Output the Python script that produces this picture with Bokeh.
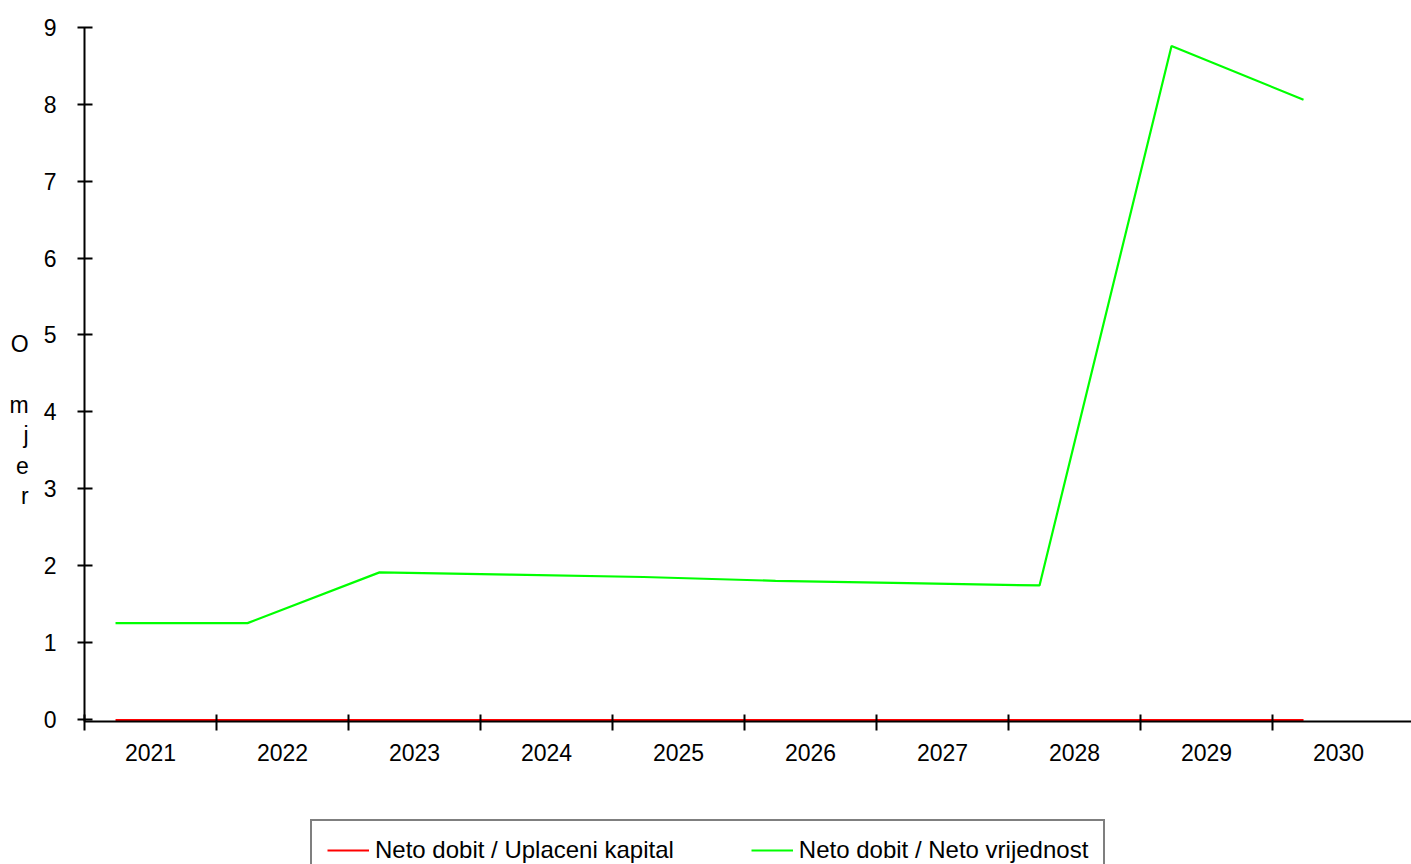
import numpy as np
from bokeh.plotting import figure
from bokeh.layouts import column
from bokeh.models import Range1d, FixedTicker, Legend, LegendItem
from bokeh.embed import file_html
from bokeh.resources import INLINE

years = ["2021", "2022", "2023", "2024", "2025", "2026", "2027", "2028", "2029", "2030"]
uplaceni_kapital = [-0.01, -0.01, -0.01, -0.01, -0.01, -0.01, -0.01, -0.01, -0.01, -0.01]
neto_vrijednost = [1.25, 1.25, 1.91, 1.88, 1.85, 1.80, 1.77, 1.74, 8.76, 8.06]
y_ticks = [0, 1, 2, 3, 4, 5, 6, 7, 8, 9]
series_names = ["Neto dobit / Uplaceni kapital", "Neto dobit / Neto vrijednost"]
series_colors = ["#FF0000", "#00FF00"]
y_title = " \n \n \nO\n \nm\nj\ne\nr"

FONT = "Liberation Sans"
FS = "23px"

n = len(years)
idx = np.arange(n)
x_pts = idx + 0.235

p = figure(width=1411, height=819, output_backend="svg", toolbar_location=None,
           x_range=Range1d(0, 10.053), y_range=Range1d(-0.03, 9),
           min_border_left=84, min_border_top=27, min_border_bottom=98, min_border_right=0)
p.outline_line_color = None
p.grid.grid_line_color = None
p.background_fill_color = "white"
p.border_fill_color = "white"

r1 = p.line(x_pts, uplaceni_kapital, line_color=series_colors[0], line_width=2)
r2 = p.line(x_pts, neto_vrijednost, line_color=series_colors[1], line_width=2.2)

# x axis: labels at category centres, tick marks at category boundaries
xa = p.xaxis[0]
xa.ticker = FixedTicker(ticks=[i + 0.5 for i in range(n)], minor_ticks=list(range(n)))
xa.major_label_overrides = {i + 0.5: y for i, y in enumerate(years)}
xa.major_tick_line_color = None
xa.major_tick_out = 9
xa.major_tick_in = 0
xa.minor_tick_line_color = "black"
xa.minor_tick_line_width = 2
xa.minor_tick_in = 7
xa.minor_tick_out = 9
xa.axis_line_color = "black"
xa.axis_line_width = 2
xa.major_label_standoff = 13
xa.major_label_text_font = FONT
xa.major_label_text_font_size = FS
xa.major_label_text_color = "black"

ya = p.yaxis[0]
ya.ticker = FixedTicker(ticks=y_ticks, minor_ticks=[])
ya.major_tick_line_color = "black"
ya.major_tick_line_width = 2
ya.major_tick_out = 7
ya.major_tick_in = 8
ya.minor_tick_line_color = None
ya.axis_line_color = "black"
ya.axis_line_width = 2
ya.major_label_standoff = 21
ya.major_label_text_font = FONT
ya.major_label_text_font_size = FS
ya.major_label_text_color = "black"
ya.axis_label = y_title
ya.axis_label_orientation = "horizontal"
ya.axis_label_text_font = FONT
ya.axis_label_text_font_size = FS
ya.axis_label_text_font_style = "normal"
ya.axis_label_text_color = "black"
ya.axis_label_text_line_height = 1.17
ya.axis_label_standoff = 12

# legend strip below the chart (series drawn out of its visible range, only used by the legend)
lf = figure(width=1411, height=45, output_backend="svg", toolbar_location=None,
            x_range=Range1d(0, 1), y_range=Range1d(100, 101), min_border=0)
lf.axis.visible = False
lf.grid.grid_line_color = None
lf.outline_line_color = None
lr1 = lf.line(x_pts, uplaceni_kapital, line_color=series_colors[0], line_width=2)
lr2 = lf.line(x_pts, neto_vrijednost, line_color=series_colors[1], line_width=2)

legend = Legend(items=[LegendItem(label=series_names[0], renderers=[lr1]),
                       LegendItem(label=series_names[1], renderers=[lr2])],
                orientation="horizontal", location=(226, -17),
                glyph_width=42, glyph_height=20, label_standoff=6, spacing=77,
                padding=15, margin=0,
                label_text_font=FONT, label_text_font_size="24px", label_text_color="black",
                border_line_color="black", border_line_width=2,
                background_fill_color="white", background_fill_alpha=1)
lf.add_layout(legend, "center")

layout = column(p, lf, spacing=0)
open("out.html", "w").write(file_html(layout, INLINE))
